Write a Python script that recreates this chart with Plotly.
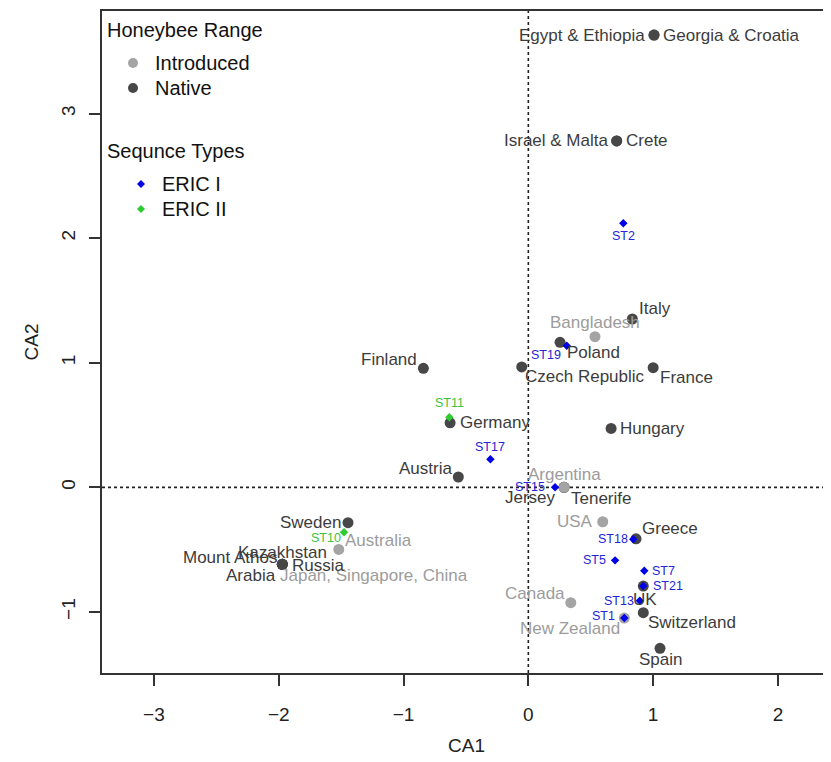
import plotly.graph_objects as go

# ---- data ----
country_names = ["Egypt & Ethiopia", "Georgia & Croatia", "Israel & Malta", "Crete", "Italy",
                 "Bangladesh", "Poland", "Czech Republic", "France", "Hungary", "Finland",
                 "Germany", "Austria", "Jersey", "Tenerife", "Argentina", "USA", "Greece", "UK",
                 "Switzerland", "New Zealand", "Canada", "Spain", "Sweden", "Australia",
                 "Japan, Singapore, China", "Mount Athos", "Kazakhstan", "Russia", "Arabia"]
country_ca1 = [1.007, 1.007, 0.708, 0.708, 0.833, 0.534, 0.254, -0.053, 1.000, 0.663, -0.841,
               -0.627, -0.561, 0.286, 0.286, 0.286, 0.596, 0.863, 0.921, 0.921, 0.769, 0.340,
               1.055, -1.445, -1.519, -1.971, -1.971, -1.971, -1.971, -1.971]
country_ca2 = [3.630, 3.630, 2.780, 2.780, 1.351, 1.209, 1.164, 0.966, 0.960, 0.473, 0.955,
               0.518, 0.083, 0.000, 0.000, 0.000, -0.276, -0.413, -0.792, -1.006, -1.049,
               -0.926, -1.292, -0.284, -0.498, -0.618, -0.618, -0.618, -0.618, -0.618]
country_range = ["Native", "Native", "Native", "Native", "Native", "Introduced", "Native",
                 "Native", "Native", "Native", "Native", "Native", "Native", "Native", "Native",
                 "Introduced", "Introduced", "Native", "Native", "Native", "Introduced",
                 "Introduced", "Native", "Native", "Introduced", "Introduced", "Native",
                 "Native", "Native", "Native"]

eric1_names = ["ST2", "ST19", "ST17", "ST15", "ST18", "ST5", "ST7", "ST21", "ST13", "ST1"]
eric1_ca1 = [0.761, 0.308, -0.304, 0.214, 0.841, 0.695, 0.929, 0.921, 0.893, 0.769]
eric1_ca2 = [2.119, 1.137, 0.225, 0.000, -0.417, -0.586, -0.669, -0.792, -0.910, -1.049]

eric2_names = ["ST11", "ST10"]
eric2_ca1 = [-0.633, -1.477]
eric2_ca2 = [0.562, -0.361]

x_ticks = [-3, -2, -1, 0, 1, 2]
y_ticks = [-1, 0, 1, 2, 3]

legend_range_title = "Honeybee Range"
legend_range_items = ["Introduced", "Native"]
legend_st_title = "Sequnce Types"
legend_st_items = ["ERIC I", "ERIC II"]

# ---- styles ----
FONT = "Liberation Sans, Arial, sans-serif"
range_marker = {"Native": "#474747", "Introduced": "#a4a4a4"}
range_text = {"Native": "#3c3c3c", "Introduced": "#9c9c9c"}
BLUE_M, BLUE_T = "#0000e6", "#2424d8"
GREEN_M, GREEN_T = "#2ecc2e", "#3cc43c"
st_marker = {"ERIC I": BLUE_M, "ERIC II": GREEN_M}

# plot-area geometry in page pixels (used only for legend placement)
PA_L, PA_R, PA_T, PA_B = 102, 831, 11, 673
PAGE_OFFSET = 8  # default body margin of the html page


def px2paper(px, py):
    return (px - PA_L) / (PA_R - PA_L), (PA_B - py) / (PA_B - PA_T)


# label placement: (xanchor, xshift px, yshift px)
label_pos = {
    "Egypt & Ethiopia": ("right", -7, 0), "Georgia & Croatia": ("left", 7, 0),
    "Israel & Malta": ("right", -7, 0), "Crete": ("left", 7, 0),
    "Italy": ("left", 5, 11), "Bangladesh": ("center", 0, 14),
    "Poland": ("left", 5, -10), "Czech Republic": ("left", 1, -10),
    "France": ("left", 5, -10), "Hungary": ("left", 7, 0),
    "Finland": ("right", -4, 9), "Germany": ("left", 8, 0),
    "Austria": ("right", -4, 9), "Jersey": ("right", -6, -10),
    "Tenerife": ("left", 5, -11), "Argentina": ("center", 0, 13),
    "USA": ("right", -8, 0), "Greece": ("left", 4, 10),
    "UK": ("center", 2, -13), "Switzerland": ("left", 3, -10),
    "New Zealand": ("right", -2, -10), "Canada": ("right", -4, 9),
    "Spain": ("center", 0, -11), "Sweden": ("right", -5, 0),
    "Australia": ("left", 4, 9), "Japan, Singapore, China": ("left", -4, -11),
    "Mount Athos": ("right", -2, 7), "Kazakhstan": ("center", 0, 12),
    "Russia": ("left", 8, -1), "Arabia": ("right", -4, -11),
    "ST2": ("center", 0, -13), "ST19": ("right", -4, -9), "ST17": ("center", 0, 12),
    "ST15": ("right", -8, 0), "ST18": ("right", -3, 0), "ST5": ("right", -7, 0),
    "ST7": ("left", 6, 0), "ST21": ("left", 8, 0), "ST13": ("right", -4, 0),
    "ST1": ("right", -7, 2), "ST11": ("center", 0, 14), "ST10": ("right", -1, -6),
}

fig = go.Figure()

# countries drawn in row order (colour by honeybee range)
fig.add_trace(go.Scatter(
    x=country_ca1, y=country_ca2, mode="markers", showlegend=False, hoverinfo="text",
    text=country_names,
    marker=dict(size=11, color=[range_marker[r] for r in country_range], line=dict(width=0)),
))
fig.add_trace(go.Scatter(
    x=eric1_ca1, y=eric1_ca2, mode="markers", name="ERIC I", text=eric1_names,
    showlegend=False, marker=dict(symbol="diamond", size=6.5, color=BLUE_M),
))
fig.add_trace(go.Scatter(
    x=eric2_ca1, y=eric2_ca2, mode="markers", name="ERIC II", text=eric2_names,
    showlegend=False, marker=dict(symbol="diamond", size=6.5, color=GREEN_M),
))


# point labels
def add_labels(names, xs, ys, colors, size):
    for n, x, y, c in zip(names, xs, ys, colors):
        xa, xs_, ys_ = label_pos[n]
        fig.add_annotation(x=x, y=y, text=n, showarrow=False, xanchor=xa, yanchor="middle",
                           xshift=xs_, yshift=ys_, font=dict(size=size, color=c, family=FONT))


add_labels(country_names, country_ca1, country_ca2,
           [range_text[r] for r in country_range], 17)
add_labels(eric1_names, eric1_ca1, eric1_ca2, [BLUE_T] * len(eric1_names), 12.5)
add_labels(eric2_names, eric2_ca1, eric2_ca2, [GREEN_T] * len(eric2_names), 12.5)

# dotted reference lines at 0
fig.add_shape(type="line", xref="x", yref="paper", x0=0, x1=0, y0=0, y1=1,
              line=dict(color="#222", width=1.6, dash="dot"), layer="below")
fig.add_shape(type="line", xref="paper", yref="y", x0=0, x1=1, y0=0, y1=0,
              line=dict(color="#222", width=1.6, dash="dot"), layer="below")


# ---- legend (drawn in the top-left corner, R style) ----
def legend_text(text, px, py):
    x, y = px2paper(px, py)
    fig.add_annotation(xref="paper", yref="paper", x=x, y=y, text=text, showarrow=False,
                       xanchor="left", yanchor="middle",
                       font=dict(size=20, color="#111", family=FONT))


def legend_circle(color, px, py, d=10):
    x, y = px2paper(px, py)
    fig.add_shape(type="circle", xref="paper", yref="paper", xsizemode="pixel",
                  ysizemode="pixel", xanchor=x, yanchor=y, x0=-d / 2, x1=d / 2,
                  y0=-d / 2, y1=d / 2, fillcolor=color, line=dict(width=0))


def legend_diamond(color, px, py, r=4):
    x, y = px2paper(px, py)
    fig.add_shape(type="path", xref="paper", yref="paper", xsizemode="pixel",
                  ysizemode="pixel", xanchor=x, yanchor=y,
                  path=f"M {-r} 0 L 0 {r} L {r} 0 L 0 {-r} Z",
                  fillcolor=color, line=dict(width=0))


legend_text(legend_range_title, 105, 30)
for i, name in enumerate(legend_range_items):
    yy = 63 + 25 * i
    legend_circle(range_marker[name], 133, yy)
    legend_text(name, 153, yy)
legend_text(legend_st_title, 105, 151)
for i, name in enumerate(legend_st_items):
    yy = 184 + 25 * i
    legend_diamond(st_marker[name], 141, yy)
    legend_text(name, 160, yy)

W, H = 831 - PAGE_OFFSET, 762 - PAGE_OFFSET
fig.update_layout(
    width=W, height=H,
    margin=dict(l=PA_L - PAGE_OFFSET, r=0, t=PA_T - PAGE_OFFSET, b=H + PAGE_OFFSET - PA_B),
    plot_bgcolor="white", paper_bgcolor="white",
    showlegend=False,
    font=dict(family=FONT, color="#222"),
    xaxis=dict(range=[-3.416, 2.425], tickvals=x_ticks, showgrid=False, zeroline=False,
               automargin=False,
               showline=True, mirror=True, linecolor="#333", linewidth=2,
               ticks="outside", ticklen=11, tickwidth=1.5, tickcolor="#333",
               ticklabelstandoff=12,
               tickfont=dict(size=19, color="#222"),
               title=dict(text="CA1", font=dict(size=19, color="#222"))),
    yaxis=dict(range=[-1.490, 3.823], tickvals=y_ticks, showgrid=False, zeroline=False,
               automargin=False,
               showline=True, mirror=False, linecolor="#333", linewidth=2,
               ticks="outside", ticklen=11, tickwidth=1.5, tickcolor="#333",
               ticklabelstandoff=6,
               tickangle=-90, tickfont=dict(size=19, color="#222"),
               title=dict(text="CA2", font=dict(size=19, color="#222"))),
)

fig.write_html("out.html")
